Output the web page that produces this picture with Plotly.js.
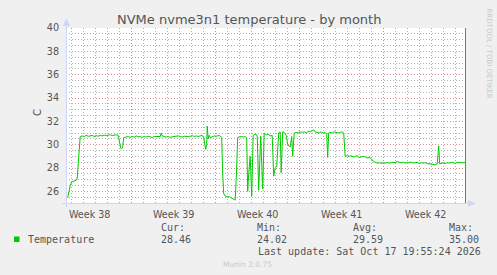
<!DOCTYPE html>
<html>
<head>
<meta charset="utf-8">
<script src="https://cdn.plot.ly/plotly-3.0.1.min.js"></script>
<style>
html,body{margin:0;padding:0;background:#F0F0F0;}
#chart{width:497px;height:275px;}
</style>
</head>
<body>
<div id="chart"></div>
<script>
// hours since the start (Monday) of week 38
const hours = [40,42,45,48,51,54,57,59,61,63,65,69,73,77,81,85,89,93,97,101,105,109,113,117,121,125,129,133,137,141,144,146,148,150,152,157,161,165,169,173,177,181,185,189,193,197,201,205,209,213,217,221,225,227,229,233,237,241,245,249,253,257,261,265,269,273,277,281,285,289,293,297,301,305,309,312,314,316,318,319,321,323,325,329,333,337,341,345,348,350,352,355,359,363,367,371,375,377,380,383,387,391,395,398,400,402,405,408,411,415,419,422,426,430,433,437,441,445,449,452,455,458,462,465,467,470,473,477,480,485,488,490,493,497,501,505,509,513,517,521,525,529,532,535,539,543,547,551,555,558,560,562,565,569,573,577,581,585,589,592,595,599,603,607,611,615,619,623,627,631,635,639,643,647,652,655,659,663,667,671,675,679,683,687,691,695,699,703,707,711,715,719,723,727,731,735,739,743,747,751,755,759,763,767,771,775,779,782,784,787,791,795,799,803,807,811,815,819,823,827,831,835];
const temperature = [25.44,25.9,26.5,26.8,26.85,26.9,26.95,27.1,28.5,30.2,30.7,30.75,30.7,30.8,30.72,30.75,30.8,30.7,30.78,30.72,30.8,30.75,30.82,30.78,30.8,30.85,30.78,30.8,30.85,30.8,30.2,29.7,29.65,29.8,30.6,30.65,30.7,30.62,30.7,30.65,30.75,30.68,30.7,30.62,30.7,30.65,30.72,30.68,30.6,30.7,30.68,30.72,30.7,31.0,30.75,30.7,30.65,30.7,30.62,30.68,30.72,30.7,30.75,30.7,30.65,30.72,30.68,30.7,30.72,30.78,30.7,30.75,30.7,30.72,30.8,30.6,29.8,29.6,30.0,31.6,30.5,30.8,30.6,30.7,30.75,30.72,30.78,30.75,30.6,27.5,25.8,25.6,25.5,25.55,25.45,25.4,25.25,27.0,30.6,30.65,30.7,30.65,30.7,30.6,26.0,27.5,29.0,25.6,30.8,30.9,30.8,26.1,30.75,26.2,31.0,30.85,30.9,30.75,30.8,27.3,28.0,28.1,31.0,31.1,27.6,31.1,31.05,30.8,30.0,29.8,30.7,29.0,31.0,31.05,31.0,31.1,31.05,31.1,31.0,31.15,31.1,31.2,31.28,31.1,31.05,31.0,31.1,31.0,31.05,30.9,28.9,31.0,31.05,31.0,31.1,31.05,31.0,31.05,31.1,31.0,29.0,29.05,29.0,29.05,28.95,29.0,29.05,28.9,28.95,29.0,28.95,28.85,28.9,28.8,28.55,28.5,28.42,28.45,28.4,28.45,28.4,28.48,28.42,28.45,28.5,28.45,28.55,28.5,28.45,28.5,28.42,28.48,28.45,28.5,28.42,28.45,28.48,28.4,28.45,28.42,28.45,28.38,28.35,28.3,28.32,28.28,28.35,29.9,28.35,28.4,28.45,28.38,28.45,28.42,28.48,28.45,28.4,28.48,28.45,28.42,28.45,28.46];

const weekBounds = [168,336,504,672];
const weekMids = [84,252,420,588,756];
const weekLabels = ["Week 38","Week 39","Week 40","Week 41","Week 42"];
const xRange = [36.6, 836.6];
const yRange = [25, 40];

const statHeads = ["Cur:","Min:","Avg:","Max:"];
const statValues = ["28.46","24.02","29.59","35.00"];
const seriesName = "Temperature";
const titleText = "NVMe nvme3n1 temperature - by month";
const lastUpdate = "Last update: Sat Oct 17 19:55:24 2026";

// pixel helpers for page-level decorations (plot area 66..466 x 28..203)
const L = 66, R = 466, T = 28, B = 203;
const px = x => (x - L) / (R - L);
const py = y => (B - y) / (B - T);

const mono = "DejaVu Sans Mono, monospace";
const sans = "DejaVu Sans, sans-serif";
const fc = "#555555";
const minorGrid = "rgba(150,150,150,0.75)";
const majorGrid = "rgba(225,120,120,0.85)";

const traces = [
  {x: hours, y: temperature, type: "scatter", mode: "lines",
   line: {color: "#00CC00", width: 1}, hoverinfo: "skip", showlegend: false},
  {x: [xRange[0]], y: [null], xaxis: "x2", type: "scatter", mode: "lines",
   hoverinfo: "skip", showlegend: false}
];

const annotations = [
  {text: titleText, x: px(248.5), y: py(19), xref: "paper", yref: "paper",
   showarrow: false, xanchor: "center", yanchor: "middle", font: {family: sans, size: 13, color: fc}},
  {text: "C", x: px(37), y: py(113), xref: "paper", yref: "paper", textangle: -90,
   showarrow: false, xanchor: "center", yanchor: "middle", font: {family: sans, size: 10, color: fc}},
  {text: "RRDTOOL / TOBI OETIKER", x: px(488.5), y: py(54), xref: "paper", yref: "paper", textangle: 90,
   showarrow: false, xanchor: "center", yanchor: "middle", font: {family: sans, size: 7, color: "#c8c8c8"}},
  {text: seriesName, x: px(26), y: py(239.5), xref: "paper", yref: "paper",
   showarrow: false, xanchor: "left", yanchor: "middle", font: {family: mono, size: 10, color: fc}},
  {text: lastUpdate, x: px(482.5), y: py(251), xref: "paper", yref: "paper",
   showarrow: false, xanchor: "right", yanchor: "middle", font: {family: mono, size: 10, color: fc}},
  {text: "Munin 2.0.75", x: px(247.5), y: py(264), xref: "paper", yref: "paper",
   showarrow: false, xanchor: "center", yanchor: "middle", font: {family: sans, size: 7.5, color: "#c8c8c8"}}
];
const statX = [158.7, 254.7, 350.7, 446.7];
statHeads.forEach((h, i) => {
  annotations.push({text: h, x: px(statX[i]), y: py(227.5), xref: "paper", yref: "paper",
    showarrow: false, xanchor: "left", yanchor: "middle", font: {family: mono, size: 10, color: fc}});
  annotations.push({text: statValues[i], x: px(statX[i]), y: py(239.5), xref: "paper", yref: "paper",
    showarrow: false, xanchor: "left", yanchor: "middle", font: {family: mono, size: 10, color: fc}});
});

const axisBlue = "#CFD6F8";
const shapes = [
  {type: "rect", xref: "paper", yref: "paper", x0: px(14), x1: px(19.5), y0: py(242), y1: py(236.5),
   fillcolor: "#00CC00", line: {width: 0}},
  {type: "line", xref: "paper", yref: "paper", x0: px(66.5), x1: px(66.5), y0: py(207), y1: py(24),
   line: {color: axisBlue, width: 1}},
  {type: "path", xref: "paper", yref: "paper",
   path: `M ${px(63)} ${py(26)} L ${px(70)} ${py(26)} L ${px(66.5)} ${py(18)} Z`,
   fillcolor: axisBlue, line: {width: 0}},
  {type: "line", xref: "paper", yref: "paper", x0: px(62), x1: px(469), y0: py(203.5), y1: py(203.5),
   line: {color: axisBlue, width: 1}},
  {type: "path", xref: "paper", yref: "paper",
   path: `M ${px(468)} ${py(200)} L ${px(468)} ${py(207)} L ${px(476)} ${py(203.5)} Z`,
   fillcolor: axisBlue, line: {width: 0}},
  {type: "line", xref: "paper", yref: "paper", x0: px(465.5), x1: px(465.5), y0: py(203), y1: py(28),
   line: {color: "#777777", width: 1}}
];

const layout = {
  width: 497, height: 275,
  margin: {l: L, r: 497 - R, t: T, b: 275 - B, pad: 0},
  paper_bgcolor: "#F0F0F0", plot_bgcolor: "#FFFFFF",
  showlegend: false,
  xaxis: {
    range: xRange, tickmode: "array", tickvals: weekBounds, showticklabels: false,
    showgrid: true, gridcolor: majorGrid, griddash: "1px,2px", gridwidth: 1,
    zeroline: false, showline: false, ticks: "",
    minor: {tick0: 0, dtick: 24, showgrid: true, gridcolor: minorGrid, griddash: "1px,2px", gridwidth: 1, ticks: ""}
  },
  xaxis2: {
    overlaying: "x", side: "bottom", anchor: "y", range: xRange,
    tickmode: "array", tickvals: weekMids, ticktext: weekLabels,
    showgrid: false, zeroline: false, showline: false,
    ticks: "outside", ticklen: 2, tickcolor: "rgba(0,0,0,0)",
    tickfont: {family: sans, size: 9.6, color: fc}
  },
  yaxis: {
    range: yRange, tick0: 0, dtick: 2,
    showgrid: true, gridcolor: majorGrid, griddash: "1px,2px", gridwidth: 1,
    zeroline: false, showline: false,
    ticks: "outside", ticklen: 4, tickcolor: "rgba(0,0,0,0)",
    tickfont: {family: sans, size: 9.6, color: fc},
    minor: {tick0: 0, dtick: 0.5, showgrid: true, gridcolor: minorGrid, griddash: "1px,2px", gridwidth: 1, ticks: ""}
  },
  annotations: annotations,
  shapes: shapes
};

Plotly.newPlot("chart", traces, layout, {staticPlot: true, displayModeBar: false});
</script>
</body>
</html>
